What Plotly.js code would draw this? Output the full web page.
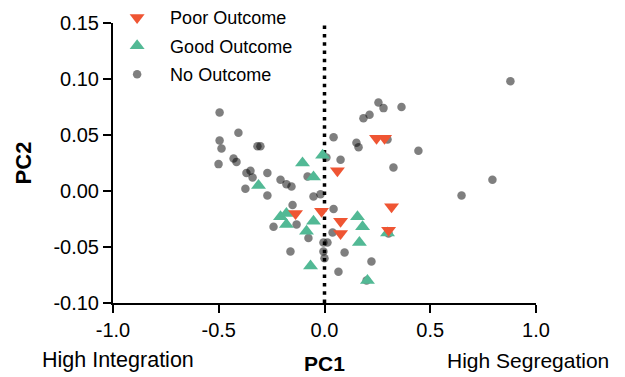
<!DOCTYPE html>
<html><head><meta charset="utf-8">
<script src="https://cdn.plot.ly/plotly-3.0.1.min.js"></script>
<style>html,body{margin:0;padding:0;background:#fff}#chart{width:625px;height:377px}</style>
</head><body><div id="chart"></div>
<script>
// No Outcome (grey circles)
const noX = [-0.496,-0.407,-0.496,-0.487,-0.317,-0.303,-0.501,-0.430,-0.416,-0.369,-0.350,-0.340,-0.270,-0.374,-0.208,-0.180,-0.156,-0.270,-0.080,-0.052,-0.019,0.043,0.043,0.255,0.279,0.364,0.184,0.213,0.151,0.161,0.076,0.326,0.298,0.444,0.879,0.794,0.648,-0.151,-0.241,-0.132,-0.161,-0.076,0.038,-0.005,0.014,-0.005,0.000,0.095,0.222,0.066,0.199,0.303,0.009];
const noY = [0.070,0.052,0.045,0.038,0.040,0.040,0.024,0.029,0.026,0.016,0.018,0.012,0.016,0.002,0.010,0.006,0.004,-0.004,0.013,-0.005,-0.003,0.048,-0.016,0.079,0.074,0.075,0.065,0.068,0.043,0.039,0.028,0.021,0.046,0.036,0.098,0.010,-0.004,-0.0125,-0.032,-0.030,-0.054,-0.042,-0.037,-0.046,-0.046,-0.054,-0.060,-0.055,-0.063,-0.072,-0.080,-0.038,0.030];
// Good Outcome (green triangles)
const goodX = [-0.312,-0.104,-0.009,-0.052,-0.208,-0.180,-0.180,-0.085,-0.052,0.156,0.180,0.165,-0.066,0.203,0.298];
const goodY = [0.005,0.025,0.032,0.0125,-0.023,-0.020,-0.030,-0.036,-0.027,-0.023,-0.032,-0.046,-0.067,-0.080,-0.0375];
// Poor Outcome (red inverted triangles)
const poorX = [0.246,0.284,0.061,-0.137,-0.014,0.076,0.076,0.317,0.303];
const poorY = [0.047,0.047,0.018,-0.020,-0.018,-0.027,-0.038,-0.014,-0.035];

const xTickVals = [-1.0,-0.5,0.0,0.5,1.0];
const xTickText = ["-1.0","-0.5","0.0","0.5","1.0"];
const yTickVals = [0.15,0.10,0.05,0.00,-0.05,-0.10];
const yTickText = ["0.15","0.10","0.05","0.00","-0.05","-0.10"];

const FONT = '"Liberation Sans", Arial, Helvetica, sans-serif';

const traces = [
  {x: noX, y: noY, type: 'scatter', mode: 'markers', name: 'No Outcome', legendgroup: 'c', legendrank: 3,
   marker: {symbol: 'circle', size: 8.5, color: 'rgba(0,0,0,0.5)', line: {width: 0}}},
  {x: goodX, y: goodY, type: 'scatter', mode: 'markers', name: 'Good Outcome', legendgroup: 'b', legendrank: 2,
   marker: {symbol: 'triangle-up', size: 13, color: '#52B995', line: {width: 0}}},
  {x: poorX, y: poorY, type: 'scatter', mode: 'markers', name: 'Poor Outcome', legendgroup: 'a', legendrank: 1,
   marker: {symbol: 'triangle-down', size: 13, color: '#EF5533', line: {width: 0}}}
];

const layout = {
  width: 625, height: 377,
  margin: {l: 113, r: 89, t: 23, b: 74, autoexpand: false},
  paper_bgcolor: '#fff', plot_bgcolor: '#fff',
  font: {family: FONT, color: '#000', size: 20},
  showlegend: true,
  legend: {x: -0.021, xanchor: 'left', y: 1.085, yanchor: 'top', traceorder: 'grouped',
           tracegroupgap: 2, itemwidth: 56, font: {size: 18, family: FONT}, bgcolor: 'rgba(0,0,0,0)'},
  xaxis: {range: [-1, 1], tickvals: xTickVals, ticktext: xTickText, showgrid: false, zeroline: false, automargin: false,
          showline: true, linecolor: '#000', linewidth: 2, ticks: 'outside', ticklen: 8, tickwidth: 2, tickcolor: '#000',
          tickfont: {size: 20}, title: {text: '<b>PC1</b>', font: {size: 21}, standoff: 16}},
  yaxis: {range: [-0.1, 0.15], tickvals: yTickVals, ticktext: yTickText, showgrid: false, zeroline: false, automargin: false,
          showline: true, linecolor: '#000', linewidth: 2, ticks: 'outside', ticklen: 8, tickwidth: 2, tickcolor: '#000',
          tickfont: {size: 20}, title: {text: '<b>PC2</b>', font: {size: 22}, standoff: 16}},
  shapes: [{type: 'line', xref: 'x', yref: 'y', x0: 0, x1: 0, y0: -0.1, y1: 0.15,
            line: {color: '#000', width: 3.5, dash: '3.5px,4.8px'}, layer: 'below'}],
  annotations: [
    {text: 'High Integration', xref: 'paper', yref: 'paper', x: 0.012, y: -0.205, xanchor: 'center', yanchor: 'middle', showarrow: false, font: {size: 21.5}},
    {text: 'High Segregation', xref: 'paper', yref: 'paper', x: 0.98, y: -0.205, xanchor: 'center', yanchor: 'middle', showarrow: false, font: {size: 21}}
  ]
};

Plotly.newPlot('chart', traces, layout, {displayModeBar: false, staticPlot: true});
</script>
</body></html>
